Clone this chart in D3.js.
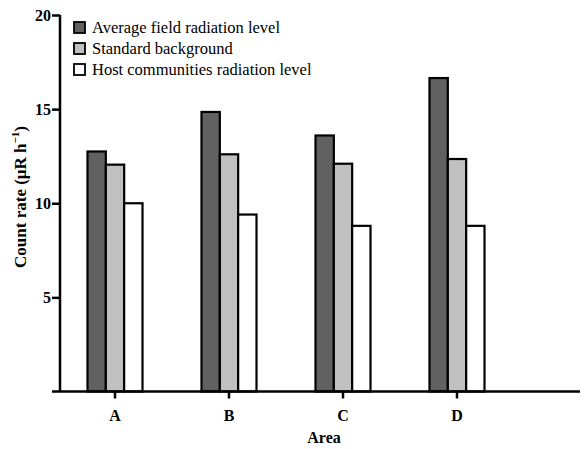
<!DOCTYPE html>
<html><head><meta charset="utf-8">
<script src="https://cdn.jsdelivr.net/npm/d3@7"></script>
<style>body{margin:0;background:#fff}svg{display:block}text{font-family:"Liberation Serif","Times New Roman",serif}</style>
</head><body><svg id="c" width="588" height="449"></svg>
<script>
const categories = ["A","B","C","D"];
const seriesNames = ["Average field radiation level","Standard background","Host communities radiation level"];
const avgField = [12.75, 14.85, 13.6, 16.65];
const standardBg = [12.05, 12.6, 12.1, 12.35];
const hostCommunities = [10.0, 9.4, 8.8, 8.8];
const yTicks = [5, 10, 15, 20];
const colors = ["#616161", "#c0c0c0", "#ffffff"];
const seriesValues = [avgField, standardBg, hostCommunities];

const svg = d3.select("#c");
const y = d3.scaleLinear().domain([0, 20]).range([391.5, 15]);
const x0 = d3.scaleBand().domain(categories).range([58, 514]).paddingInner(0.5175).paddingOuter(0.5175/2);
const x1 = d3.scaleBand().domain(d3.range(3)).range([0, x0.bandwidth()]);

// bars
categories.forEach((c, i) => {
  const g = svg.append("g").attr("transform", `translate(${x0(c)},0)`);
  seriesValues.forEach((vals, s) => {
    g.append("rect")
      .attr("x", x1(s)).attr("width", x1.bandwidth())
      .attr("y", y(vals[i])).attr("height", y(0) - y(vals[i]))
      .attr("fill", colors[s]).attr("stroke", "#000").attr("stroke-width", 2.2);
  });
});

// y axis
const yAxis = svg.append("g").attr("transform", "translate(60,0)")
  .call(d3.axisLeft(y).tickValues(yTicks).tickSize(8).tickSizeOuter(0).tickFormat(d3.format("d")));
yAxis.select(".domain").attr("stroke-width", 2.5).attr("d", `M0,${y(20)}V${y(0)}`);
yAxis.selectAll(".tick line").attr("stroke-width", 2.5);
yAxis.selectAll(".tick text").attr("x", -9).attr("dy", "0.35em")
  .style("font-size", "16px").style("font-weight", "bold").attr("fill", "#000");

// x axis
const xAxis = svg.append("g").attr("transform", `translate(0,${y(0)})`)
  .call(d3.axisBottom(x0).tickSize(7).tickSizeOuter(0));
xAxis.select(".domain").attr("stroke-width", 2.5).attr("d", "M52,0H580");
xAxis.selectAll(".tick line").attr("stroke-width", 2.5);
xAxis.selectAll(".tick text").attr("y", 18).style("font-size", "16px").style("font-weight", "bold").attr("fill", "#000");

// axis titles
svg.append("text").attr("x", 324).attr("y", 443).attr("text-anchor", "middle")
  .style("font-size", "16px").style("font-weight", "bold").text("Area");
const yt = svg.append("text").attr("transform", "translate(26,197) rotate(-90)").attr("text-anchor", "middle")
  .style("font-size", "17px").style("font-weight", "bold");
yt.append("tspan").text("Count rate (\u03bcR h");
yt.append("tspan").attr("dy", "-7").style("font-size", "11px").text("\u22121");
yt.append("tspan").attr("dy", "7").text(")");

// legend
const leg = svg.append("g");
seriesNames.forEach((n, i) => {
  const cy = 27.5 + i * 21;
  leg.append("rect").attr("x", 74).attr("y", cy - 5.5).attr("width", 11).attr("height", 11)
    .attr("fill", colors[i]).attr("stroke", "#000").attr("stroke-width", 1.8);
  leg.append("text").attr("x", 92).attr("y", cy).attr("dy", "0.35em").style("font-size", "16.5px").text(n);
});
</script></body></html>
